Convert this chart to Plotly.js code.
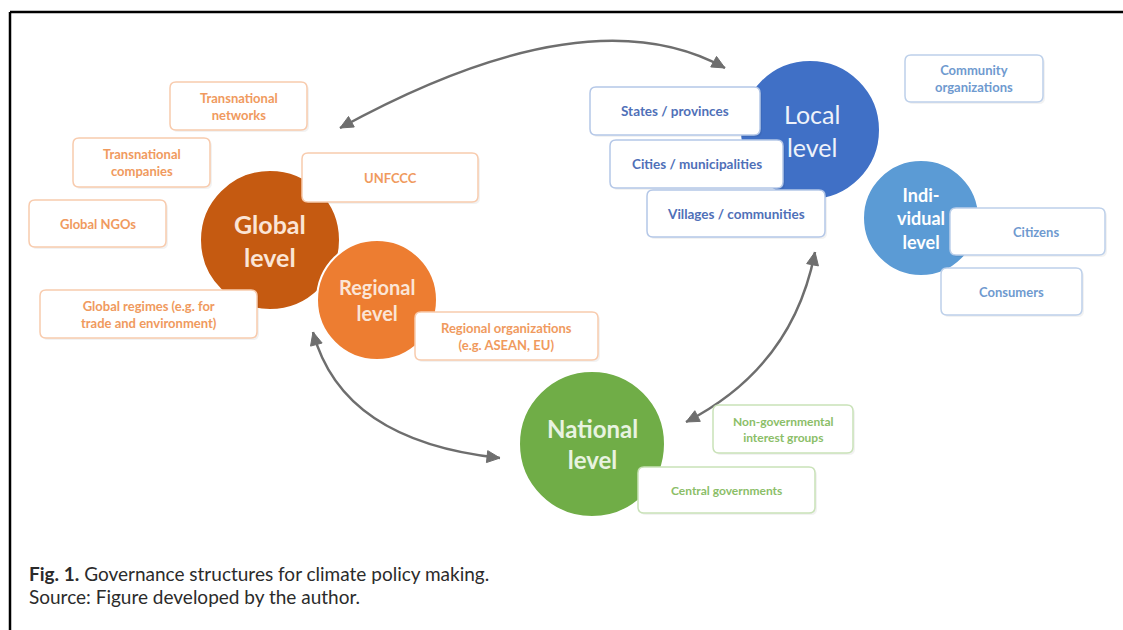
<!DOCTYPE html>
<html>
<head>
<meta charset="utf-8">
<script src="https://cdn.plot.ly/plotly-3.0.1.min.js"></script>
<style>html,body{margin:0;padding:0;background:#fff;}#fig{width:1123px;height:630px;}</style>
</head>
<body>
<div id="fig"></div>
<script>
// ---- content ----
const levelLabels = ['Global<br>level', 'Regional<br>level', 'Local<br>level', 'Indi-<br>vidual<br>level', 'National<br>level'];
const actorLabels = [
  'Transnational<br>networks', 'Transnational<br>companies', 'Global NGOs',
  'Global regimes (e.g. for<br>trade and environment)', 'UNFCCC',
  'Regional organizations<br>(e.g. ASEAN, EU)',
  'States / provinces', 'Cities / municipalities', 'Villages / communities',
  'Community<br>organizations', 'Citizens', 'Consumers',
  'Non-governmental<br>interest groups', 'Central governments'
];
const captionLines = ['<b>Fig. 1.</b> Governance structures for climate policy making.',
                      'Source: Figure developed by the author.'];

// ---- geometry & style (pixel space) ----
const circleGeom = [[270, 240, 70], [377, 300, 60], [810, 130, 70], [921, 218, 58], [592, 444, 73]];
const circleFill = ['#C55A11', '#ED7D31', '#4070C6', '#5B9BD5', '#70AD47'];
const circleText = ['#FBE5D6', '#FBE5D6', '#EEF2FA', '#FFFFFF', '#E8F3E0'];
const circleFont = [25, 20, 25, 18, 24];
const circleBold = [true, true, false, true, true];

const boxGeom = [
  [170, 82, 307, 130], [73, 138, 210, 187], [29, 200, 166, 247],
  [40, 290, 257, 338], [302, 153, 478, 202],
  [415, 312, 598, 360],
  [590, 87, 760, 135], [610, 140, 783, 188], [647, 190, 825, 237],
  [905, 55, 1043, 102], [950, 208, 1105, 255], [941, 268, 1082, 315],
  [713, 405, 853, 453], [638, 467, 815, 513]
];
const boxGroup = ['o','o','o','o','o','o','b','b','b','c','c','c','g','g'];
const groupText = {o: '#F09A5E', b: '#4F70B8', c: '#6F9ACF', g: '#8BBE68'};
const groupLine = {o: '#F8CBAD', b: '#B4C7E7', c: '#BDD0EA', g: '#C9E2B8'};
const groupSize = {o: 13, b: 13.5, c: 13, g: 12};

// arrows: quadratic curves [P0, control, P2], heads at both ends
const arrowGeom = [
  [[340, 128], [588, -8], [725, 68]],
  [[313, 332], [342, 441], [500, 458]],
  [[815, 252], [793, 367], [686, 422]]
];

function rr(x0, y0, x1, y1, r) {
  return `M${x0+r},${y0} L${x1-r},${y0} Q${x1},${y0} ${x1},${y0+r} L${x1},${y1-r} Q${x1},${y1} ${x1-r},${y1} ` +
         `L${x0+r},${y1} Q${x0},${y1} ${x0},${y1-r} L${x0},${y0+r} Q${x0},${y0} ${x0+r},${y0} Z`;
}
function head(tip, from, L, w) {
  const dx = tip[0]-from[0], dy = tip[1]-from[1], n = Math.hypot(dx, dy);
  const ux = dx/n, uy = dy/n, px = -uy, py = ux;
  const bx = tip[0]-L*ux, by = tip[1]-L*uy;
  return `M${tip[0]},${tip[1]} L${bx+w*px},${by+w*py} L${bx-w*px},${by-w*py} Z`;
}

const shapes = [];
const annotations = [];

// frame lines
shapes.push({type:'line', x0:10, y0:12, x1:1123, y1:12, line:{color:'#000', width:2.5}});
shapes.push({type:'line', x0:10, y0:12, x1:10, y1:630, line:{color:'#000', width:2.5}});

// arrows
const arrowColor = '#6E6E6E';
arrowGeom.forEach(([p0, c, p2]) => {
  shapes.push({type:'path', path:`M${p0[0]},${p0[1]} Q${c[0]},${c[1]} ${p2[0]},${p2[1]}`,
               line:{color:arrowColor, width:2.5}});
  shapes.push({type:'path', path:head(p0, c, 13, 6), fillcolor:arrowColor, line:{color:arrowColor, width:1}});
  shapes.push({type:'path', path:head(p2, c, 13, 6), fillcolor:arrowColor, line:{color:arrowColor, width:1}});
});

// circles
circleGeom.forEach(([cx, cy, r], i) => {
  shapes.push({type:'circle', x0:cx-r, x1:cx+r, y0:cy-r, y1:cy+r,
               fillcolor:circleFill[i], line:{color:'#FFFFFF', width:2}});
  annotations.push({x:cx + (i === 2 ? 2 : 0), y:cy, text:circleBold[i] ? '<b>'+levelLabels[i]+'</b>' : levelLabels[i],
    showarrow:false, xanchor:'center', yanchor:'middle', align:'center',
    font:{family:'Lato, "Open Sans", sans-serif', size:circleFont[i], color:circleText[i]}});
});

// boxes
boxGeom.forEach(([x0, y0, x1, y1], i) => {
  const g = boxGroup[i];
  shapes.push({type:'path', path:rr(x0+2, y0+2, x1+2, y1+2, 6), fillcolor:'rgba(0,0,0,0.05)', line:{width:0}});
  shapes.push({type:'path', path:rr(x0, y0, x1, y1, 6), fillcolor:'#FFFFFF', line:{color:groupLine[g], width:1.5}});
  annotations.push({x:(x0+x1)/2 + (i === 10 ? 8 : 0), y:(y0+y1)/2, text:'<b>'+actorLabels[i]+'</b>', showarrow:false,
    xanchor:'center', yanchor:'middle', align:'center',
    font:{family:'Lato, "Open Sans", sans-serif', size:groupSize[g], color:groupText[g]}});
});

// caption
const capY = [573, 596];
captionLines.forEach((t, i) => {
  annotations.push({x:27, y:capY[i], text:t, showarrow:false, xanchor:'left', yanchor:'middle', align:'left',
    font:{family:'Lato, "Open Sans", sans-serif', size:19, color:'#2B2B2B'}});
});

const layout = {
  width:1123, height:630, margin:{l:0, r:0, t:0, b:0},
  paper_bgcolor:'#FFFFFF', plot_bgcolor:'#FFFFFF',
  xaxis:{range:[0,1123], visible:false, fixedrange:true},
  yaxis:{range:[630,0], visible:false, fixedrange:true},
  shapes:shapes, annotations:annotations, showlegend:false
};
Plotly.newPlot('fig', [], layout, {staticPlot:true, displayModeBar:false});
</script>
</body>
</html>
